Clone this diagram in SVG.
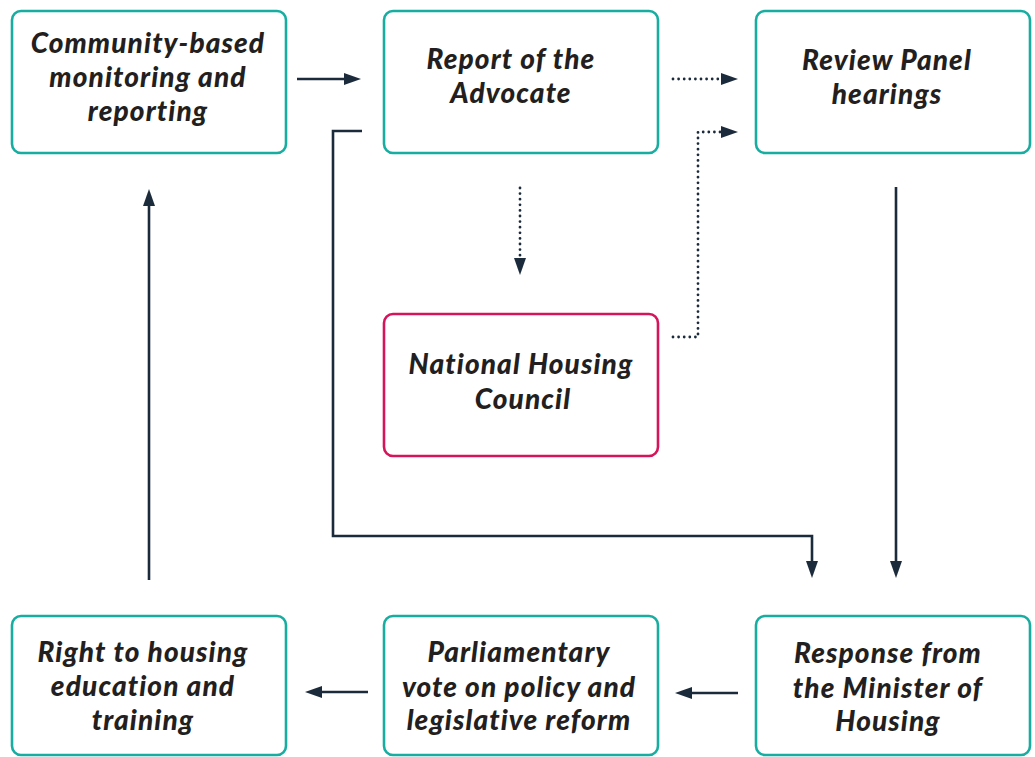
<svg xmlns="http://www.w3.org/2000/svg" width="1035" height="757" viewBox="0 0 1035 757">
<style>
.box{fill:#ffffff;stroke:#17ada0;stroke-width:2.6}
.pink{fill:#ffffff;stroke:#d6145a;stroke-width:2.6}
.t{font-family:Lato,"Liberation Sans",sans-serif;font-weight:900;font-style:italic;font-size:28px;letter-spacing:1.1px;fill:#231f20;text-anchor:middle}
.c{fill:none;stroke:#1c2b3c;stroke-width:2.6}
.d{fill:none;stroke:#1c2b3c;stroke-width:2.8;stroke-dasharray:0 5.6;stroke-linecap:round}
</style>
<defs>
<marker id="ah" markerUnits="userSpaceOnUse" markerWidth="18" markerHeight="14" viewBox="0 0 18 14" refX="10" refY="7" orient="auto">
<path d="M0,1 L17,7 L0,13 Z" fill="#1c2b3c"/>
</marker>
</defs>
<rect width="1035" height="757" fill="#ffffff"/>
<g id="connectors">
<path class="c" d="M297,79 H354" marker-end="url(#ah)"/>
<path class="c" d="M362,131 H333 V536 H812 V571" marker-end="url(#ah)"/>
<path class="c" d="M896,187 V571" marker-end="url(#ah)"/>
<path class="c" d="M149,580 V196" marker-end="url(#ah)"/>
<path class="c" d="M738,693 H682" marker-end="url(#ah)"/>
<path class="c" d="M368,692 H312" marker-end="url(#ah)"/>
<path class="d" d="M673,79 H726"/>
<path class="c" d="M726,79 H731" marker-end="url(#ah)"/>
<path class="d" d="M673,337 H698 V132 H726"/>
<path class="c" d="M726,132 H731" marker-end="url(#ah)"/>
<path class="d" d="M520,188 V262"/>
<path class="c" d="M520,262 V268" marker-end="url(#ah)"/>
</g>
<g id="community">
<rect class="box" x="12" y="11" width="274" height="142" rx="9"/>
<text class="t" x="148" y="53">Community-based</text>
<text class="t" x="148" y="87">monitoring and</text>
<text class="t" x="148" y="121">reporting</text>
</g>
<g id="report">
<rect class="box" x="384" y="11" width="274" height="142" rx="9"/>
<text class="t" x="511" y="69">Report of the</text>
<text class="t" x="511" y="103">Advocate</text>
</g>
<g id="review">
<rect class="box" x="756" y="11" width="274" height="142" rx="9"/>
<text class="t" x="887" y="70">Review Panel</text>
<text class="t" x="887" y="104">hearings</text>
</g>
<g id="nhc">
<rect class="pink" x="384" y="314" width="274" height="142" rx="9"/>
<text class="t" x="521" y="374">National Housing</text>
<text class="t" x="523" y="409">Council</text>
</g>
<g id="response">
<rect class="box" x="756" y="616" width="274" height="139" rx="9"/>
<text class="t" x="888" y="663">Response from</text>
<text class="t" x="888" y="698">the Minister of</text>
<text class="t" x="888" y="731">Housing</text>
</g>
<g id="parliament">
<rect class="box" x="384" y="616" width="274" height="139" rx="9"/>
<text class="t" x="519" y="662">Parliamentary</text>
<text class="t" x="519" y="697">vote on policy and</text>
<text class="t" x="519" y="730">legislative reform</text>
</g>
<g id="education">
<rect class="box" x="12" y="616" width="274" height="139" rx="9"/>
<text class="t" x="143" y="662">Right to housing</text>
<text class="t" x="143" y="696">education and</text>
<text class="t" x="143" y="730">training</text>
</g>
</svg>
